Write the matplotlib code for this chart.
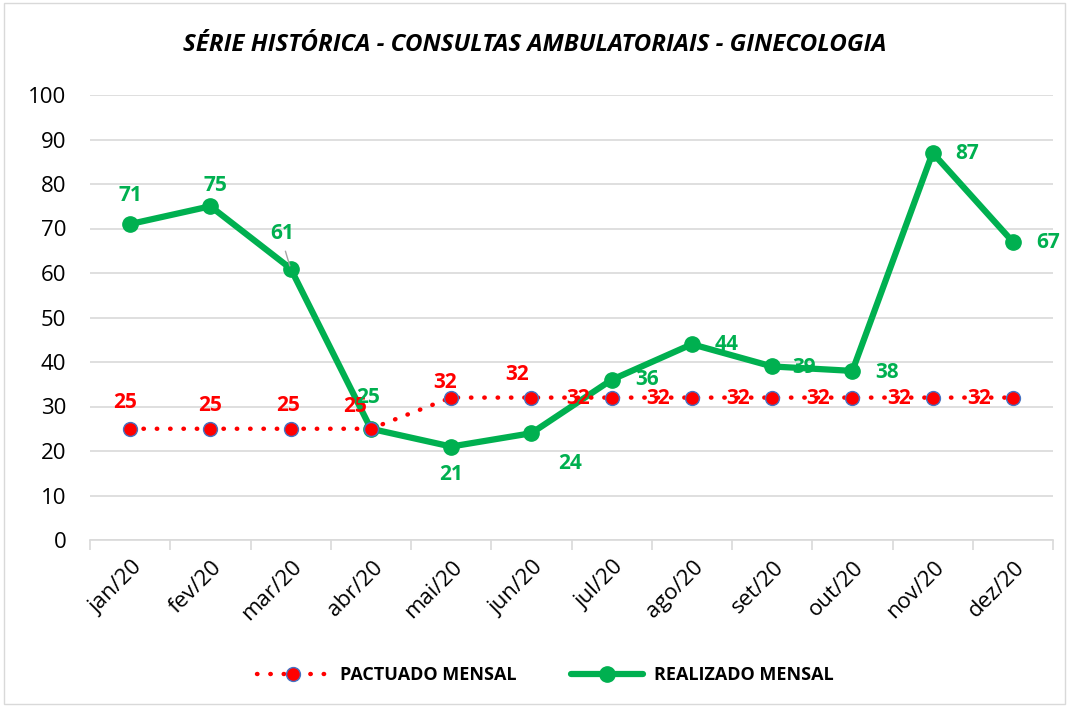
import matplotlib
matplotlib.use("Agg")
import matplotlib.pyplot as plt
import matplotlib.transforms as mtrans
from matplotlib.patches import Rectangle
from matplotlib.lines import Line2D

months = ["jan/20", "fev/20", "mar/20", "abr/20", "mai/20", "jun/20",
          "jul/20", "ago/20", "set/20", "out/20", "nov/20", "dez/20"]
pactuado = [25, 25, 25, 25, 32, 32, 32, 32, 32, 32, 32, 32]
realizado = [71, 75, 61, 25, 21, 24, 36, 44, 39, 38, 87, 67]
yticks = [0, 10, 20, 30, 40, 50, 60, 70, 80, 90, 100]

# label offsets in pixels (style)
pact_off = [(-5, 26), (0, 23), (-3, 23), (-16, 22), (-6, 15), (-14, 23),
            (-34, -1), (-34, -1), (-34, -1), (-34, -1), (-34, -1), (-34, -1)]
real_off = [(0, 29), (5, 21), (-8, 35), (-3, 31), (0, -28), (39, -30),
            (35, 0), (35, 0), (32, -1), (35, -2), (35, -1), (35, -1)]

plt.rcParams['font.family'] = ['Open Sans', 'DejaVu Sans']

fig = plt.figure(figsize=(10.69, 7.07), dpi=100)
fig.patches.append(Rectangle((0.004, 0.004), 0.992, 0.992, transform=fig.transFigure,
                             fill=False, edgecolor='#D9D9D9', linewidth=1))
ax = fig.add_axes([90 / 1069, 1 - 540 / 707, (1053 - 90) / 1069, (540 - 95) / 707])

x = list(range(len(months)))
ax.plot(x, realizado, color='#00B050', linewidth=4.5, marker='o', markersize=11,
        zorder=3, solid_capstyle='round')
ax.plot(x, pactuado, color='#FF0000', linewidth=3.2, linestyle=(0, (0.1, 2.9)),
        dash_capstyle='round', marker='o', markersize=10, markerfacecolor='#FF0000',
        markeredgecolor='#4472C4', markeredgewidth=1, zorder=4)

for i, v in enumerate(pactuado):
    dx, dy = pact_off[i]
    ax.annotate(str(v), (i, v), xytext=(dx, dy), textcoords='offset pixels',
                ha='center', va='center', color='#FF0000', fontsize=15,
                fontweight='bold', zorder=5)
for i, v in enumerate(realizado):
    dx, dy = real_off[i]
    ax.annotate(str(v), (i, v), xytext=(dx, dy), textcoords='offset pixels',
                ha='center', va='center', color='#00B050', fontsize=15,
                fontweight='bold', zorder=5)
# leader line for mar
ax.annotate('', xy=(2, 61), xytext=(-6, 20), textcoords='offset pixels',
            arrowprops=dict(arrowstyle='-', color='#A6A6A6', lw=1))

ax.set_xlim(-0.5, len(months) - 0.5)
ax.set_ylim(0, 100)
ax.set_yticks(yticks)
ax.tick_params(axis='y', length=0, labelsize=16, pad=17)
ax.set_xticks(x)
ax.set_xticklabels(months, rotation=45, ha='right', rotation_mode='anchor', fontsize=16)
ax.tick_params(axis='x', length=0, pad=12)
ax.set_xticks([i - 0.5 for i in range(len(months) + 1)], minor=True)
ax.tick_params(axis='x', which='minor', length=7, color='#D9D9D9', width=1.2)
offset = mtrans.ScaledTranslation(1 / 100, 0, fig.dpi_scale_trans)
for lbl in ax.get_xticklabels():
    lbl.set_transform(lbl.get_transform() + offset)

ax.grid(axis='y', color='#D9D9D9', linewidth=1.2)
ax.set_axisbelow(True)
for s in ['top', 'right', 'left']:
    ax.spines[s].set_visible(False)
ax.spines['bottom'].set_color('#D9D9D9')
ax.spines['bottom'].set_linewidth(1.2)

fig.text(0.5, 1 - 45 / 707, "SÉRIE HISTÓRICA - CONSULTAS AMBULATORIAIS - GINECOLOGIA",
         ha='center', va='center', fontsize=17.4, fontweight='bold', fontstyle='italic')

handles = [Line2D([], [], color='#FF0000', linewidth=3.2, linestyle=(0, (0.1, 2.9)),
                  dash_capstyle='round', marker='o', markersize=10,
                  markerfacecolor='#FF0000', markeredgecolor='#4472C4'),
           Line2D([], [], color='#00B050', linewidth=4.5, marker='o', markersize=11,
                  solid_capstyle='round')]
fig.legend(handles, ["PACTUADO MENSAL", "REALIZADO MENSAL"], loc='center',
           bbox_to_anchor=(0.51, 1 - 675 / 707), ncol=2, frameon=False,
           prop={'weight': 'bold', 'size': 13}, handlelength=4, columnspacing=3,
           handletextpad=0.6)

fig.savefig("out.png", dpi=100)
